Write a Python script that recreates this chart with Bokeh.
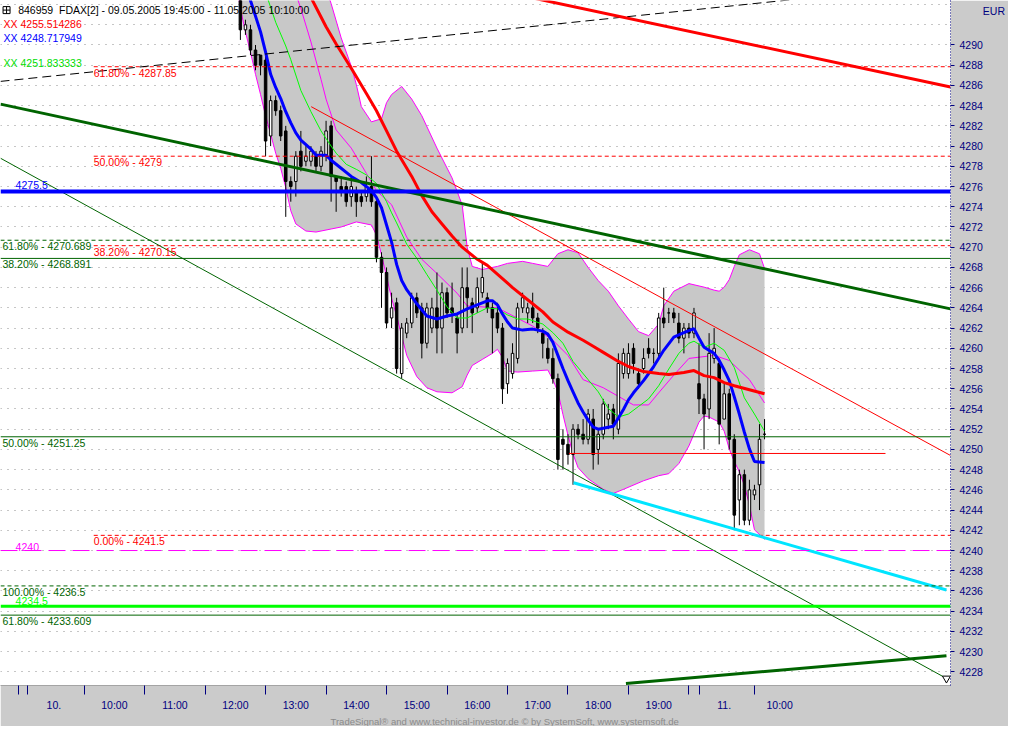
from bokeh.plotting import figure
from bokeh.models import ColumnDataSource, Label, Title, Span, FixedTicker, SingleIntervalTicker
from bokeh.embed import file_html
from bokeh.resources import INLINE

# FDAX 5-minute bars, bar 0 = 10.05.2005 12:35
bar = list(range(105))
open_ = [4295, 4291.5, 4291.5, 4289.5, 4289, 4288.5, 4281, 4284.5, 4283.5, 4281.5,
         4276.5, 4276.5, 4279.5, 4278.5, 4278.5, 4279, 4278, 4279, 4282, 4277,
         4276, 4276, 4275, 4275.5, 4275, 4275, 4276, 4274.5, 4269, 4267.5,
         4263, 4264.5, 4257.5, 4261.5, 4262.5, 4265, 4264, 4260.5, 4262, 4264,
         4262, 4265.5, 4264, 4263, 4262, 4266, 4264.5, 4264, 4265.5, 4265,
         4264, 4263.5, 4262, 4256.5, 4257.5, 4259, 4264, 4263.5, 4264, 4263,
         4261.5, 4260, 4259, 4257, 4251, 4250.5, 4249.5, 4252, 4251.5, 4251,
         4253, 4250, 4251.5, 4253, 4254, 4252, 4257.5, 4257.5, 4260, 4257.5,
         4258, 4260, 4259.5, 4259.5, 4263, 4263.5, 4263.5, 4262.5, 4261, 4262,
         4261.5, 4256.5, 4255, 4254, 4259, 4258.5, 4253, 4255.5, 4251, 4245,
         4247.5, 4243, 4245.5, 4246.5, 4251.5]
high = [4296, 4292.5, 4292, 4290, 4289, 4289, 4285, 4285, 4284, 4282,
        4277, 4279.5, 4281.5, 4280, 4280, 4279.5, 4280, 4282.5, 4282.5, 4277,
        4277, 4276.5, 4277, 4276, 4275.5, 4277, 4279, 4275, 4269.5, 4268,
        4265.5, 4265, 4262.5, 4263, 4265.5, 4265.5, 4264.5, 4264.5, 4265, 4267.5,
        4266.5, 4266, 4266.5, 4263.5, 4268, 4268, 4265, 4267, 4268.5, 4265.5,
        4264.5, 4264.5, 4262.5, 4259, 4260.5, 4264.5, 4265.5, 4264.5, 4265.5, 4263.5,
        4262, 4261, 4260, 4257.5, 4252, 4251.5, 4252.5, 4252.5, 4253, 4254,
        4254, 4252, 4255, 4254.5, 4254.5, 4259.5, 4260, 4260.5, 4260.5, 4258,
        4260, 4261, 4260, 4263.5, 4266, 4264, 4264, 4263.5, 4262.5, 4262.5,
        4264, 4260.5, 4255.5, 4261.5, 4262, 4259, 4256.5, 4256, 4251.5, 4248,
        4248, 4247, 4246.5, 4252.5, 4253]
low = [4290.5, 4291, 4289, 4287.5, 4287, 4279, 4280, 4283, 4280.5, 4273,
       4274.5, 4275, 4277.5, 4278, 4278, 4277.5, 4277.5, 4278.5, 4274.5, 4273.5,
       4275, 4274, 4274, 4273, 4274, 4274.5, 4274, 4268.5, 4264, 4262,
       4262, 4257.5, 4257, 4261, 4262, 4263, 4259, 4260, 4261.5, 4259.5,
       4259.5, 4263, 4262.5, 4259.5, 4261.5, 4262, 4261.5, 4263.5, 4265, 4263.5,
       4259.5, 4261.5, 4254.5, 4255.5, 4257, 4258.5, 4263.5, 4262.5, 4262.5, 4261.5,
       4259, 4258.5, 4256.5, 4248, 4248, 4248.5, 4246.5, 4251, 4250.5, 4250.5,
       4248, 4248.5, 4251, 4252, 4251, 4251.5, 4257, 4257, 4257.5, 4256,
       4257.5, 4259, 4258.5, 4259, 4262, 4262.5, 4262.5, 4260.5, 4259.5, 4261,
       4261, 4253.5, 4250, 4253, 4258.5, 4250.5, 4253, 4250, 4242, 4242.5,
       4242.5, 4242.5, 4245, 4244, 4251]
close = [4291.5, 4292, 4289.5, 4288, 4288, 4280.5, 4284.5, 4283.5, 4281, 4276.5,
         4276, 4279, 4278, 4279, 4279.5, 4278, 4279.5, 4281.5, 4277, 4276.5,
         4275.5, 4274.5, 4276, 4274.5, 4274.5, 4276, 4274.5, 4269, 4267.5, 4262.5,
         4264, 4258, 4262, 4262.5, 4265, 4263.5, 4260.5, 4264, 4264, 4262,
         4265.5, 4263.5, 4263.5, 4261.5, 4266, 4265, 4263.5, 4266, 4267, 4264,
         4263, 4262, 4256, 4258.5, 4259.5, 4264, 4265, 4264, 4263, 4262,
         4260.5, 4259, 4257, 4249, 4250.5, 4249.5, 4252, 4251.5, 4251, 4253.5,
         4249.5, 4251.5, 4254.5, 4253.5, 4252.5, 4258.5, 4259.5, 4259.5, 4258.5, 4256.5,
         4259, 4259.5, 4259.5, 4263, 4262.5, 4263.5, 4263, 4261, 4262, 4261.5,
         4263.5, 4255, 4253.5, 4259.5, 4260, 4252.5, 4255.5, 4251, 4243.5, 4247.5,
         4243, 4246, 4246, 4251, 4251.5]

# moving averages (bar index, price)
ma_red_bar = [12, 14, 17, 19, 22, 25, 27, 29, 31, 34, 36, 38, 40, 42, 44, 47, 49, 52, 54, 57,
              60, 62, 65, 68, 70, 72, 75, 77, 80, 83, 85, 88, 90, 92, 94, 96, 98, 101, 104]
ma_red = [4296.5, 4294.7, 4291.8, 4290.1, 4287.7, 4285.2, 4283.5, 4281.5, 4279.5, 4277.0,
          4275.1, 4273.5, 4272.3, 4271.1, 4270.0, 4268.8, 4268.2, 4266.9, 4266.0, 4264.8,
          4263.6, 4262.6, 4261.6, 4260.8, 4260.2, 4259.6, 4258.7, 4258.2, 4257.7, 4257.5,
          4257.4, 4257.6, 4257.8, 4257.3, 4257.1, 4256.6, 4256.3, 4255.9, 4255.5]
ma_blue_bar = [1, 2, 4, 5, 6, 7, 8, 9, 10, 11, 12, 14, 15, 17, 18, 19, 22, 24, 26, 27,
               28, 29, 30, 31, 32, 33, 34, 35, 37, 39, 41, 43, 45, 47, 49, 50, 51, 52, 53, 54,
               56, 58, 60, 61, 62, 63, 64, 65, 66, 67, 68, 69, 70, 71, 72, 74, 75, 76, 77, 78,
               80, 82, 84, 86, 88, 90, 91, 92, 94, 95, 96, 97, 98, 99, 100, 101, 102, 104]
ma_blue = [4295.9, 4294.4, 4291.3, 4289.3, 4287.1, 4285.8, 4284.7, 4283.4, 4282.3, 4281.3,
           4280.6, 4279.7, 4279.1, 4279.1, 4278.6, 4278.2, 4277.0, 4276.4, 4275.6, 4274.9,
           4273.9, 4272.2, 4270.5, 4268.3, 4266.7, 4265.8, 4265.1, 4264.4, 4263.2, 4262.9,
           4263.2, 4263.4, 4263.9, 4264.3, 4264.7, 4264.7, 4264.3, 4263.4, 4262.6, 4262.0,
           4261.8, 4261.9, 4261.7, 4261.4, 4260.6, 4259.3, 4258.0, 4256.8, 4255.7, 4254.6,
           4253.7, 4252.9, 4252.2, 4252.0, 4252.1, 4252.3, 4253.1, 4253.95, 4254.9, 4255.6,
           4256.8, 4258.2, 4259.8, 4261.1, 4261.55, 4261.95, 4261.0, 4260.1, 4259.5, 4258.8,
           4257.85, 4256.8, 4255.2, 4253.5, 4251.7, 4250.05, 4248.8, 4248.7]
ma_green_bar = [5, 7, 9, 10, 12, 14, 16, 18, 19, 21, 23, 25, 27, 29, 30, 31, 33, 35, 37, 39,
                41, 43, 45, 47, 49, 51, 53, 55, 57, 60, 62, 64, 66, 69, 71, 73, 75, 77, 79, 81,
                83, 85, 87, 89, 90, 92, 94, 96, 98, 100, 102, 104]
ma_green = [4295.2, 4292.25, 4289.9, 4288.55, 4285.5, 4283.4, 4281.5, 4280.0, 4279.3, 4278.2,
            4277.7, 4277.15, 4276.3, 4274.5, 4273.4, 4272.4, 4270.3, 4268.9, 4267.3, 4265.75,
            4264.1, 4263.0, 4263.0, 4263.5, 4264.0, 4263.9, 4263.3, 4262.9, 4262.9, 4262.4,
            4261.55, 4260.5, 4258.7, 4256.9, 4255.7, 4254.05, 4253.2, 4253.5, 4254.25, 4255.0,
            4256.3, 4257.95, 4259.5, 4260.5, 4260.7, 4260.1, 4260.5, 4259.8, 4258.1, 4255.1,
            4253.5, 4251.8]
mid_band_bar = [10, 12, 14, 16, 17, 19, 22, 25, 27, 30, 33, 36, 39, 43, 45, 51, 58, 62, 65, 68,
                72, 78, 81, 83, 86, 89, 94, 97, 101, 104]
mid_band = [4296.5, 4293.6, 4290.3, 4286.6, 4284.65, 4281.6, 4279.8, 4277.3, 4275.6, 4274.2,
            4271.0, 4268.8, 4267.4, 4265.45, 4264.2, 4264.0, 4262.2, 4260.8, 4259.3, 4256.9,
            4256.1, 4254.4, 4254.4, 4255.6, 4257.35, 4259.0, 4259.3, 4258.8, 4256.9, 4254.6]

# envelope band
upper_bar = [-1, 5, 10, 15, 17, 18, 20, 22, 23, 24, 26, 28, 29, 30, 32, 34, 36, 39, 42, 44,
             45, 46, 48, 51, 53, 56, 58, 61, 63, 65, 67, 69, 71, 73, 75, 77, 79, 81, 83, 84,
             86, 89, 92, 94, 95, 96, 97, 98, 99, 101, 103, 104]
upper = [4312, 4307, 4302, 4298.8, 4295.6, 4294.1, 4290.7, 4287.9, 4286.1, 4283.9,
         4282.4, 4282.7, 4284.3, 4285.1, 4285.9, 4284.65, 4283.0, 4279.8, 4276.85, 4274.2,
         4270.0, 4268.1, 4267.8, 4268.1, 4268.4, 4268.6, 4268.4, 4268.1, 4269.35, 4269.75,
         4269.45, 4268.0, 4266.7, 4265.65, 4264.2, 4262.9, 4261.65, 4261.25, 4262.4, 4264.2,
         4265.65, 4266.4, 4266.05, 4265.75, 4265.65, 4266.05, 4266.8, 4268.1, 4269.25, 4269.75,
         4269.35, 4267.9]
lower_bar = [-1, 0, 1, 2, 3, 4, 5, 6, 7, 8, 9, 10, 11, 13, 15, 18, 20, 23, 26, 27,
             28, 29, 30, 31, 33, 35, 37, 39, 42, 44, 45, 46, 48, 50, 51, 52, 53, 55, 58, 61,
             62, 63, 64, 65, 66, 67, 69, 72, 74, 76, 80, 83, 85, 87, 89, 91, 92, 93, 95, 96,
             97, 98, 99, 100, 101, 102, 104]
lower = [4296.8, 4293.6, 4291.3, 4289.3, 4287.1, 4285.1, 4283.0, 4281.2, 4279.3, 4277.8,
         4275.9, 4273.6, 4272.3, 4271.6, 4271.5, 4271.8, 4272.0, 4272.5, 4272.2, 4271.2,
         4269.25, 4267.1, 4264.95, 4263.2, 4259.3, 4257.2, 4256.1, 4255.7, 4255.6, 4256.2,
         4257.35, 4258.3, 4258.9, 4259.5, 4259.9, 4259.1, 4257.75, 4257.65, 4257.75, 4257.85,
         4256.9, 4255.7, 4253.45, 4251.4, 4249.55, 4248.2, 4247.1, 4246.05, 4245.65, 4246.05,
         4246.9, 4247.4, 4247.6, 4248.6, 4250.35, 4252.7, 4253.3, 4253.2, 4252.7, 4251.8,
         4250.05, 4248.8, 4247.8, 4246.45, 4244.5, 4242.05, 4241.1]

# drawn trend lines: (bar start, bar end), (price start, price end)
trend_dashed = ([-47.6, 140.9], [4286.4, 4296.1])
trend_red = ([50, 140.9], [4295.5, 4285.85])
trend_green = ([-47.6, 140.9], [4284.15, 4263.9])
channel_green = ([-47.6, 140.1], [4278.8, 4227.35])
channel_red = ([14.05, 140.9], [4283.9, 4249.4])
trend_cyan = ([66.1, 140.1], [4246.7, 4236.1])
trend_bottom = ([76.5, 140.1], [4226.85, 4229.6])

# retracement levels
fib_red = [4287.85, 4279.0, 4270.15, 4241.5]
fib_red_text = ["61.80% - 4287.85", "50.00% - 4279", "38.20% - 4270.15", "0.00% - 4241.5"]
fib_red_from = -29.1
fib_green = [4270.689, 4268.891, 4251.25, 4236.5, 4233.609]
fib_green_text = ["61.80% - 4270.689", "38.20% - 4268.891", "50.00% - 4251.25",
                  "100.00% - 4236.5", "61.80% - 4233.609"]
level_blue = 4275.5
level_lime = 4234.5
level_magenta = 4240.0
level_red = 4249.6
level_red_bars = [65.2, 128]

# x axis: hour labels sit in the middle of each hour
time_pos = [-37, -25, -13, -1, 11, 23, 35, 47, 59, 71, 83, 96, 107]
time_text = ["10.", "10:00", "11:00", "12:00", "13:00", "14:00", "15:00", "16:00",
             "17:00", "18:00", "19:00", "11.", "10:00"]
time_bounds = [-44.1, -42.3, -31, -19, -7, 5, 17, 29, 41, 53, 65, 77, 89, 91, 102]

# price axis
price_ticks = list(range(4228, 4291, 2))
currency = "EUR"
currency_at = 4293.4

header = "846959\u00a0\u00a0FDAX[2] - 09.05.2005 19:45:00 - 11.05.2005 10:10:00"
legend_red = "XX 4255.514286"
legend_blue = "XX 4248.717949"
legend_green = "XX 4251.833333"

FONT = "Liberation Sans"
NAVY = "#000080"
DKGREEN = "#006400"
PANEL = "#cbcbcb"
FS = "10.5px"

p = figure(width=1008, height=726, x_range=(-47.6, 140.9), y_range=(4226.65, 4294.4),
           y_axis_location="right", output_backend="svg", toolbar_location=None,
           background_fill_color="white", border_fill_color=PANEL,
           min_border_left=0, min_border_top=0, min_border_right=57, min_border_bottom=40)
p.outline_line_color = None
p.xgrid.grid_line_color = None

p.ygrid.ticker = SingleIntervalTicker(interval=2)
p.ygrid.grid_line_color = "#8c8c8c"
p.ygrid.grid_line_dash = "1 6"

ya = p.yaxis[0]
ya.ticker = FixedTicker(ticks=price_ticks + [currency_at], minor_ticks=price_ticks)
ya.major_label_overrides = {currency_at: "\u00a0" * 8 + currency}
ya.axis_line_color = NAVY
ya.axis_line_dash = "1 2"
ya.major_tick_line_color = None
ya.major_tick_in = 0
ya.major_tick_out = 0
ya.minor_tick_line_color = NAVY
ya.minor_tick_in = 0
ya.minor_tick_out = 4
ya.major_label_standoff = 5
ya.major_label_text_color = NAVY
ya.major_label_text_font = FONT
ya.major_label_text_font_size = FS

xa = p.xaxis[0]
xa.ticker = FixedTicker(ticks=time_pos, minor_ticks=time_bounds)
xa.major_label_overrides = dict(zip(time_pos, time_text))
xa.major_tick_line_color = None
xa.major_tick_in = 0
xa.major_tick_out = 0
xa.minor_tick_line_color = NAVY
xa.minor_tick_in = 0
xa.minor_tick_out = 9
xa.axis_line_color = "#a4a4a4"
xa.major_label_standoff = 4
xa.major_label_text_color = NAVY
xa.major_label_text_font = FONT
xa.major_label_text_font_size = FS

p.add_layout(Title(text="TradeSignal\u00ae and www.technical-investor.de \u00a9 by SystemSoft, www.systemsoft.de",
                   align="left", offset=330, text_font=FONT, text_font_size="9.5px",
                   text_font_style="normal", text_color="#8a8a8a", standoff=0,
                   text_line_height=1.0), "below")

# envelope band
p.patch(upper_bar + lower_bar[::-1], upper + lower[::-1], fill_color="#c8c8c8", line_color=None)
p.line(upper_bar, upper, line_color="#ff00ff", line_width=1)
p.line(lower_bar, lower, line_color="#ff00ff", line_width=1)
p.line(mid_band_bar, mid_band, line_color="#ff00ff", line_width=1)

# candles
src = ColumnDataSource(dict(
    bar=bar, high=high, low=low,
    top=[max(o, c) for o, c in zip(open_, close)],
    bottom=[min(o, c) for o, c in zip(open_, close)],
    fill=["white" if c > o else "black" for o, c in zip(open_, close)],
))
p.segment(x0="bar", y0="high", x1="bar", y1="low", line_color="black", line_width=1, source=src)
p.vbar(x="bar", top="top", bottom="bottom", width=0.5, fill_color="fill",
       line_color="black", line_width=1, source=src)

# averages
p.line(ma_green_bar, ma_green, line_color="#00ff00", line_width=1)
p.line(ma_blue_bar, ma_blue, line_color="#0000ff", line_width=3)
p.line(ma_red_bar, ma_red, line_color="#ff0000", line_width=3)

# horizontal levels
p.segment(x0=[fib_red_from] * len(fib_red), y0=fib_red, x1=[141] * len(fib_red), y1=fib_red,
          line_color="#ff0000", line_width=1, line_dash="4 3")
for lvl, dashed in zip(fib_green, [True, False, False, True, False]):
    p.add_layout(Span(location=lvl, dimension="width", line_color=DKGREEN, line_width=1,
                      line_dash="4 3" if dashed else "solid"))
p.add_layout(Span(location=level_magenta, dimension="width", line_color="#ff00ff",
                  line_width=1, line_dash="17 7"))
p.add_layout(Span(location=level_lime, dimension="width", line_color="#00ff00", line_width=3))
p.add_layout(Span(location=level_blue, dimension="width", line_color="#0000ff", line_width=4))
p.line(level_red_bars, [level_red, level_red], line_color="#ff0000", line_width=1)

# trend lines
p.line(*trend_dashed, line_color="black", line_width=1, line_dash="9 5")
p.line(*channel_green, line_color=DKGREEN, line_width=1)
p.line(*channel_red, line_color="#ff0000", line_width=1)
p.line(*trend_green, line_color=DKGREEN, line_width=3)
p.line(*trend_red, line_color="#ff0000", line_width=3)
p.line(*trend_cyan, line_color="#00e5ff", line_width=3)
p.line(*trend_bottom, line_color=DKGREEN, line_width=3)
p.scatter([channel_green[0][1]], [channel_green[1][1]], marker="inverted_triangle", size=8,
          fill_color="white", line_color="black")


def lab(x, y, text, color, baseline="top", align="left", size=FS):
    p.add_layout(Label(x=x, y=y, text=text, text_color=color, text_font=FONT,
                       text_font_size=size, text_baseline=baseline, text_align=align))


for lvl, txt in zip(fib_red, fib_red_text):
    lab(fib_red_from, lvl, txt, "#ff0000")
for lvl, txt in zip(fib_green, fib_green_text):
    lab(-47.2, lvl, txt, DKGREEN)
lab(-44.6, level_blue + 0.25, "4275.5", "#0000ff", baseline="bottom")
lab(-44.6, level_magenta, "4240", "#ff00ff", baseline="bottom")
lab(-44.6, level_lime + 0.15, "4234.5", "#00ff00", baseline="bottom")

# header and legend
p.scatter([-46.4], [4293.45], marker="square_cross", size=7, fill_color="white", line_color="black")
lab(-44.1, 4293.45, header, "black", baseline="middle")
lab(-47.0, 4292.05, legend_red, "#ff0000", baseline="middle")
lab(-47.0, 4290.7, legend_blue, "#0000ff", baseline="middle")
lab(-47.0, 4288.2, legend_green, "#00dd00", baseline="middle")

open("out.html", "w").write(file_html(p, INLINE))
